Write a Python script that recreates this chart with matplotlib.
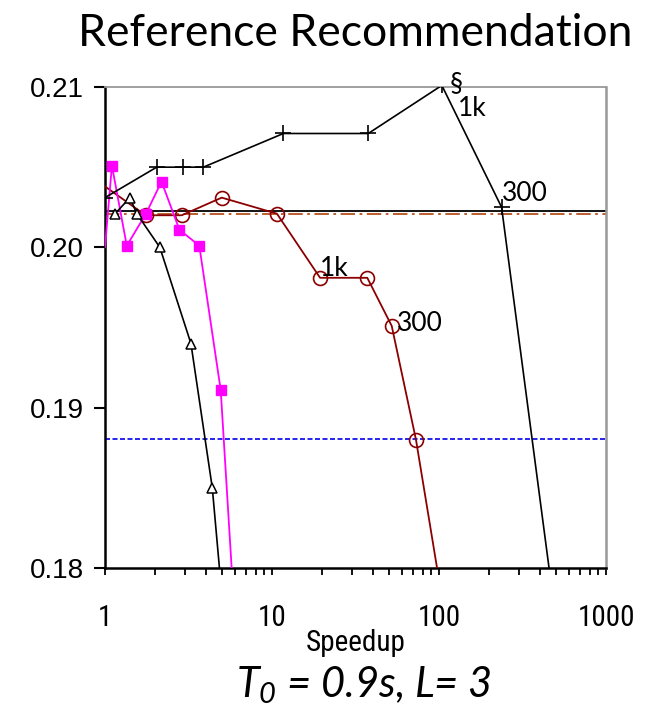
import matplotlib
matplotlib.use("Agg")
import matplotlib.pyplot as plt
from matplotlib.ticker import LogLocator, NullFormatter, FixedLocator, FixedFormatter

plt.rcParams["mathtext.fontset"] = "custom"
plt.rcParams["mathtext.it"] = "Lato:italic"
plt.rcParams["mathtext.rm"] = "Lato:italic"

# ---- data ----
plus_x = [1.0, 2.04, 2.94, 3.88, 11.7, 37.7, 104, 237, 610]
plus_y = [0.2031, 0.2050, 0.2050, 0.2050, 0.2071, 0.2071, 0.2101, 0.2025, 0.170]

circ_x = [1.0, 1.75, 2.88, 5.0, 10.7, 19.4, 37.2, 52.1, 72.8, 140]
circ_y = [0.2038, 0.2020, 0.2020, 0.2031, 0.2021, 0.1981, 0.1981, 0.1951, 0.1880, 0.170]

tri_x = [1.15, 1.41, 1.55, 2.13, 3.27, 4.39, 5.9]
tri_y = [0.2021, 0.2031, 0.2021, 0.2000, 0.1940, 0.1850, 0.170]

sq_x = [1.0, 1.10, 1.35, 1.76, 2.18, 2.79, 3.67, 4.93, 6.57]
sq_y = [0.2000, 0.2051, 0.2001, 0.2021, 0.2041, 0.2011, 0.2001, 0.1911, 0.170]

hline_black = 0.20226
hline_brown = 0.20208
hline_blue = 0.18805

annotations = [
    ("\u00a7", 116, 0.21019),
    ("1k", 130, 0.20866),
    ("300", 237, 0.20333),
    ("1k", 19.4, 0.19865),
    ("300", 55.8, 0.19528),
]

y_ticks = [0.18, 0.19, 0.20, 0.21]
y_tick_labels = ["0.18", "0.19", "0.20", "0.21"]
x_ticks = [1, 10, 100, 1000]
x_tick_labels = ["1", "10", "100", "1000"]

NARROW = ["Roboto Condensed", "Liberation Sans Narrow", "Liberation Sans", "DejaVu Sans"]

# ---- figure ----
fig = plt.figure(figsize=(6.59, 7.14), dpi=100)
ax = fig.add_axes([105/659, 1-568/714, (606-105)/659, (568-87)/714])

ax.set_xscale("log")
ax.set_xlim(1, 1000)
ax.set_ylim(0.18, 0.21)

ax.axhline(hline_black, color="black", lw=1.3, zorder=2)
ax.axhline(hline_brown, color="#B8501E", lw=1.3, dashes=(8, 2.5, 1.5, 2.5), zorder=2)
ax.axhline(hline_blue, color="#0000EE", lw=1.2, dashes=(3, 1.5), zorder=2)

ax.plot(plus_x, plus_y, color="black", lw=1.2, marker="+", ms=11, mew=1.2, zorder=4)
ax.plot(circ_x, circ_y, color="#8B0000", lw=1.3, marker="o", ms=10, mfc="none",
        mec="#8B0000", mew=1.2, markevery=list(range(1, len(circ_x))), zorder=3)
ax.plot(tri_x, tri_y, color="black", lw=1.2, marker="^", ms=6.5, mfc="white",
        mec="black", mew=1.1, zorder=4)
ax.plot(sq_x, sq_y, color="#FF00FF", lw=1.3, marker="s", ms=6.5, mfc="#FF00FF",
        mec="#FF00FF", markevery=list(range(1, len(sq_x))), zorder=3)

for txt, x, y in annotations:
    ax.text(x, y, txt, fontsize=19, family=["Lato", "DejaVu Sans"], ha="left", va="center",
            color="black", zorder=6)

# spines
ax.spines["left"].set_color("black")
ax.spines["left"].set_linewidth(1.8)
ax.spines["bottom"].set_color("black")
ax.spines["bottom"].set_linewidth(1.8)
ax.spines["top"].set_color("#999999")
ax.spines["top"].set_linewidth(1.3)
ax.spines["right"].set_color("#999999")
ax.spines["right"].set_linewidth(1.8)

ax.yaxis.set_major_locator(FixedLocator(y_ticks))
ax.yaxis.set_major_formatter(FixedFormatter(y_tick_labels))
ax.xaxis.set_major_locator(FixedLocator(x_ticks))
ax.xaxis.set_major_formatter(FixedFormatter(x_tick_labels))
ax.xaxis.set_minor_locator(LogLocator(base=10, subs=range(2, 10)))
ax.xaxis.set_minor_formatter(NullFormatter())
ax.yaxis.set_minor_locator(FixedLocator([]))

ax.tick_params(axis="y", which="major", direction="out", length=8, width=1.5,
               labelsize=20, pad=7)
ax.tick_params(axis="x", which="both", direction="out", length=5, width=1.3,
               labelsize=21, pad=21)
for lab in ax.get_yticklabels():
    lab.set_family(["Liberation Sans", "DejaVu Sans"])
for lab in ax.get_xticklabels():
    lab.set_family(NARROW)

ax.set_xlabel("Speedup", fontsize=21, family=NARROW, labelpad=-2)

fig.text(355/659, 1-33/714, "Reference Recommendation", fontsize=32,
         family=["Lato", "DejaVu Sans"], ha="center", va="center")
fig.text(364/659, 1-685/714, r"$\mathit{T_0}$" + " = 0.9s, L= 3", fontsize=30,
         family=["Lato", "DejaVu Sans"], style="italic", ha="center", va="center")

fig.savefig("out.png", dpi=100)
